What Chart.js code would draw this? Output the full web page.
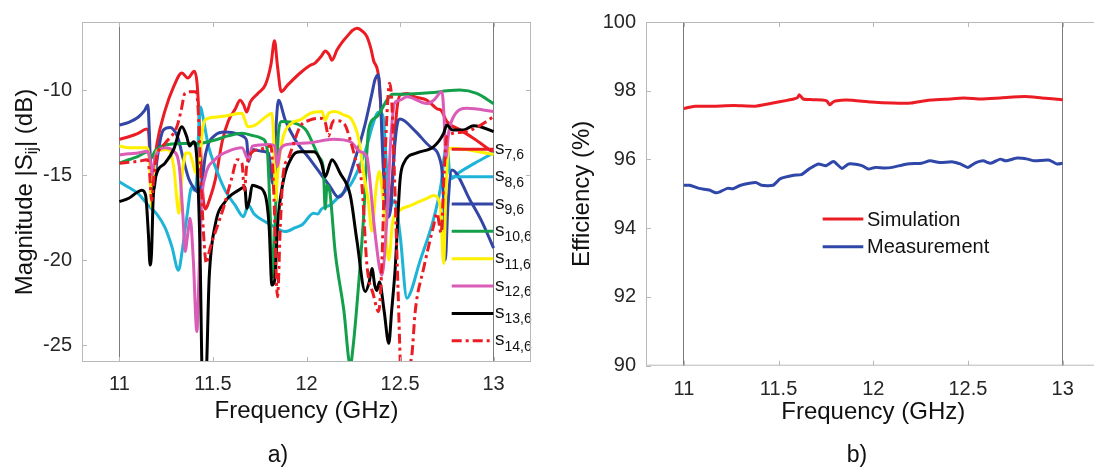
<!DOCTYPE html>
<html lang="en">
<head>
  <meta charset="UTF-8" />
  <title>S-parameters and efficiency</title>
  <script src="https://cdn.jsdelivr.net/npm/chart.js@4"></script>
  <style>
    body {
      margin: 0;
      width: 1094px;
      height: 468px;
      overflow: hidden;
      position: relative;
      background: #fff;
      font-family: "Liberation Sans", Arial, sans-serif;
    }

    canvas {
      position: absolute;
      top: 0;
    }

    #chartA { left: 0; }
    #chartB { left: 560px; }

    .caption {
      position: absolute;
      top: 443px;
      width: 60px;
      text-align: center;
      font-size: 23px;
      line-height: 1;
      color: #111;
    }
  </style>
</head>
<body>
  <canvas id="chartA" width="560" height="468"></canvas>
  <canvas id="chartB" width="560" height="468"></canvas>
  <div class="caption" style="left:248px">a)</div>
  <div class="caption" style="left:827px">b)</div>

  <script>
    // ---- data ----
    const freqTicks = [11, 11.5, 12, 12.5, 13];
    const magTicks = [-25, -20, -15, -10];
    const effTicks = [90, 92, 94, 96, 98, 100];

    const sNames = ['7,6', '8,6', '9,6', '10,6', '11,6', '12,6', '13,6', '14,6'];

    // [GHz, dB]
    const s7_6 = [[11.0,-12.9],[11.05,-12.75],[11.1,-12.55],[11.145,-12.3],[11.155,-12.4],[11.165,-14.5],[11.172,-16.3],[11.18,-15.0],[11.2,-13.2],[11.244,-11.2],[11.29,-9.8],[11.334,-9.0],[11.366,-9.3],[11.4,-8.9],[11.415,-9.6],[11.43,-12.5],[11.445,-16],[11.46,-17],[11.48,-16.5],[11.512,-15.3],[11.55,-13.0],[11.583,-11.8],[11.62,-11.1],[11.645,-10.6],[11.665,-10.9],[11.68,-11.3],[11.7,-10.7],[11.74,-10.2],[11.78,-9.7],[11.81,-8.5],[11.829,-7.1],[11.845,-8.6],[11.865,-10.1],[11.9,-9.7],[11.966,-9.0],[12.02,-8.55],[12.047,-8.4],[12.08,-8.0],[12.1,-7.7],[12.12,-7.9],[12.136,-8.25],[12.163,-7.65],[12.19,-7.2],[12.216,-6.86],[12.245,-6.5],[12.27,-6.37],[12.3,-6.55],[12.323,-6.86],[12.345,-7.6],[12.358,-8.25],[12.385,-9.2],[12.4,-11.5],[12.42,-15.5],[12.44,-17],[12.46,-15],[12.48,-11.5],[12.5,-10.3],[12.537,-10.2],[12.58,-10.4],[12.644,-10.6],[12.697,-11.1],[12.72,-11.2],[12.75,-11.85],[12.822,-12.35],[12.9,-12.9],[13.0,-13.7]];
    const s8_6 = [[11.0,-15.4],[11.03,-15.6],[11.1,-16.1],[11.155,-16.8],[11.2,-17.3],[11.244,-18.1],[11.28,-19.2],[11.316,-20.6],[11.335,-19.5],[11.36,-17.5],[11.387,-15.7],[11.4,-15.9],[11.415,-15.0],[11.425,-12.0],[11.434,-11.0],[11.445,-11.5],[11.476,-13.3],[11.512,-14.5],[11.565,-15.9],[11.62,-16.8],[11.663,-17.45],[11.68,-17.0],[11.69,-16.8],[11.72,-17.3],[11.78,-17.75],[11.82,-18.0],[11.886,-18.33],[11.94,-18.1],[11.98,-17.9],[12.037,-17.25],[12.06,-17.3],[12.08,-17.0],[12.127,-16.76],[12.18,-16.2],[12.234,-15.6],[12.28,-14.6],[12.32,-13.4],[12.35,-12.2],[12.376,-11.4],[12.39,-11.3],[12.41,-11.6],[12.425,-14],[12.44,-17],[12.47,-16.5],[12.5,-18.5],[12.537,-22.25],[12.56,-21.8],[12.6,-20.3],[12.68,-17.55],[12.72,-15.5],[12.735,-14.0],[12.75,-13.2],[12.765,-14.8],[12.777,-15.2],[12.81,-14.9],[12.9,-14.3],[13.0,-13.7]];
    const s9_6 = [[11.0,-12.06],[11.05,-11.9],[11.1,-11.6],[11.135,-11.2],[11.152,-10.88],[11.16,-12.5],[11.17,-15.5],[11.185,-15.8],[11.2,-14.2],[11.235,-12.35],[11.27,-12.2],[11.3,-12.5],[11.316,-12.94],[11.34,-14.0],[11.37,-15.2],[11.4,-15.8],[11.42,-16.0],[11.44,-15.5],[11.46,-13.8],[11.512,-12.65],[11.565,-12.47],[11.636,-12.6],[11.67,-12.8],[11.681,-13.04],[11.69,-14.2],[11.71,-13.5],[11.76,-13.6],[11.797,-13.72],[11.82,-15.5],[11.835,-12.5],[11.85,-10.6],[11.886,-11.76],[11.94,-12.94],[12.02,-14.1],[12.08,-15.0],[12.127,-15.7],[12.17,-16.3],[12.2,-16.0],[12.25,-14.4],[12.31,-12.16],[12.35,-10.2],[12.366,-9.4],[12.384,-9.1],[12.395,-10.5],[12.41,-14.5],[12.43,-17.5],[12.45,-17.0],[12.47,-13.5],[12.49,-11.8],[12.5,-11.7],[12.58,-12.4],[12.661,-13.33],[12.72,-14.4],[12.735,-17],[12.742,-20.0],[12.755,-17],[12.777,-14.7],[12.875,-16.5],[12.94,-17.8],[13.0,-19.3]];
    const s10_6 = [[11.0,-14.3],[11.05,-14.1],[11.1,-13.9],[11.155,-13.63],[11.17,-14.0],[11.19,-13.6],[11.244,-13.24],[11.33,-13.14],[11.42,-13.14],[11.512,-12.94],[11.58,-12.7],[11.655,-12.55],[11.72,-12.7],[11.76,-12.84],[11.79,-13.5],[11.805,-17],[11.82,-21.0],[11.835,-17],[11.85,-12.5],[11.868,-11.86],[11.94,-11.96],[12.0,-12.4],[12.04,-13.3],[12.07,-14.0],[12.09,-14.6],[12.1,-17.0],[12.11,-15.6],[12.125,-16.0],[12.153,-19.5],[12.2,-23.0],[12.234,-26.2],[12.25,-25.0],[12.27,-22.6],[12.305,-17.5],[12.332,-12.35],[12.376,-11.57],[12.43,-10.59],[12.46,-10.25],[12.5,-10.25],[12.6,-10.2],[12.68,-10.15],[12.75,-10.05],[12.82,-10.0],[12.91,-10.2],[13.0,-10.8]];
    const s11_6 = [[11.0,-13.3],[11.05,-13.4],[11.15,-13.4],[11.165,-15],[11.172,-16.9],[11.185,-15],[11.2,-13.6],[11.26,-13.5],[11.29,-14.5],[11.318,-17.25],[11.335,-15],[11.355,-13.7],[11.375,-13.7],[11.39,-14.2],[11.41,-14.9],[11.43,-14],[11.445,-12.3],[11.458,-11.76],[11.512,-11.6],[11.58,-11.5],[11.655,-11.37],[11.672,-11.8],[11.685,-12.16],[11.72,-12.1],[11.78,-11.6],[11.815,-11.37],[11.825,-13],[11.835,-16.5],[11.845,-15],[11.87,-13],[11.92,-11.96],[11.966,-11.76],[12.02,-11.37],[12.082,-11.27],[12.1,-11.76],[12.12,-11.35],[12.15,-11.27],[12.2,-11.47],[12.243,-11.76],[12.28,-12.94],[12.305,-14.9],[12.33,-16.5],[12.35,-18.3],[12.37,-16.0],[12.39,-14.8],[12.41,-16.5],[12.44,-20.0],[12.46,-17.8],[12.5,-17.06],[12.555,-16.8],[12.644,-16.37],[12.68,-16.2],[12.715,-16.8],[12.733,-20.2],[12.745,-16],[12.76,-13.43],[12.85,-13.5],[13.0,-13.8]];
    const s12_6 = [[11.0,-13.82],[11.05,-13.75],[11.1,-13.7],[11.15,-13.6],[11.165,-14.2],[11.175,-15.0],[11.19,-14.0],[11.244,-13.4],[11.29,-13.6],[11.32,-14.5],[11.34,-17.5],[11.351,-19.5],[11.365,-18.5],[11.378,-17.55],[11.395,-20],[11.414,-24.2],[11.425,-21],[11.44,-16.5],[11.458,-15.1],[11.51,-14.1],[11.583,-13.6],[11.655,-13.4],[11.69,-14.1],[11.71,-13.3],[11.8,-13.2],[11.83,-13.3],[11.845,-14.5],[11.86,-13.5],[11.9,-13.2],[12.02,-13.1],[12.144,-12.9],[12.234,-13.04],[12.287,-13.63],[12.323,-13.92],[12.335,-14.9],[12.367,-18.5],[12.403,-20.9],[12.43,-17.5],[12.45,-13],[12.47,-10.8],[12.5,-10.59],[12.537,-10.4],[12.644,-10.8],[12.68,-10.6],[12.724,-10.1],[12.735,-11.5],[12.745,-14],[12.76,-12.5],[12.786,-11.57],[12.858,-11.08],[13.0,-11.27]];
    const s13_6 = [[11.0,-16.57],[11.05,-16.37],[11.097,-16.0],[11.12,-15.9],[11.14,-16.2],[11.155,-18.5],[11.164,-20.3],[11.172,-19.5],[11.18,-16.5],[11.19,-15.3],[11.244,-14.3],[11.29,-13.5],[11.334,-12.16],[11.36,-12.75],[11.375,-13.3],[11.396,-13.04],[11.414,-14.1],[11.43,-19],[11.445,-27.5],[11.46,-27.5],[11.48,-21],[11.512,-17.94],[11.565,-16.57],[11.636,-15.9],[11.67,-15.7],[11.681,-16.96],[11.695,-16.5],[11.71,-15.6],[11.74,-15.7],[11.78,-16.2],[11.8,-18],[11.815,-21.47],[11.83,-21.2],[11.845,-18],[11.87,-15.7],[11.925,-13.9],[11.966,-13.63],[12.04,-13.63],[12.08,-14.3],[12.1,-15.1],[12.136,-14.1],[12.18,-14.9],[12.234,-16.2],[12.27,-18.9],[12.314,-21.86],[12.335,-21.3],[12.35,-20.5],[12.365,-21.5],[12.376,-21.8],[12.39,-21.3],[12.415,-23],[12.44,-24.9],[12.455,-23],[12.474,-20.5],[12.5,-15.3],[12.52,-14.3],[12.59,-13.7],[12.68,-13.33],[12.733,-12.55],[12.75,-12.06],[12.78,-12.35],[12.84,-12.35],[12.893,-12.1],[12.93,-12.16],[13.0,-12.45]];
    const s14_6 = [[11.0,-14.31],[11.05,-14.25],[11.1,-14.2],[11.15,-14.1],[11.162,-15],[11.172,-16.5],[11.185,-15],[11.2,-13.9],[11.244,-13.14],[11.307,-12.16],[11.33,-11.2],[11.35,-10.2],[11.38,-10.1],[11.41,-10.1],[11.42,-11],[11.435,-15],[11.45,-18.5],[11.465,-20.2],[11.48,-19.5],[11.557,-16.9],[11.6,-15.2],[11.63,-14.1],[11.655,-14.3],[11.668,-15.9],[11.68,-14.5],[11.704,-13.7],[11.75,-13.5],[11.81,-13.3],[11.825,-16],[11.845,-22.16],[11.86,-18],[11.875,-15],[11.904,-14.0],[11.966,-12.16],[12.02,-11.76],[12.07,-11.66],[12.1,-11.9],[12.118,-12.7],[12.135,-12.0],[12.15,-11.8],[12.2,-11.96],[12.234,-12.94],[12.26,-14.0],[12.296,-15.6],[12.323,-20.3],[12.358,-22.06],[12.385,-23.04],[12.4,-21],[12.42,-14],[12.435,-10.5],[12.444,-9.6],[12.455,-10.5],[12.47,-15],[12.49,-22],[12.505,-27],[12.52,-28],[12.545,-26.5],[12.564,-25.5],[12.581,-23.04],[12.626,-20.5],[12.679,-18.0],[12.697,-17.25],[12.72,-18.4],[12.735,-15],[12.75,-12.75],[12.822,-12.5],[12.91,-12.2],[13.0,-11.57]];

    // [GHz, %]
    const simEff = [[11.0,97.48],[11.03,97.52],[11.06,97.55],[11.15,97.55],[11.265,97.57],[11.377,97.55],[11.45,97.62],[11.545,97.72],[11.58,97.76],[11.6,97.8],[11.61,97.88],[11.63,97.76],[11.68,97.74],[11.73,97.73],[11.755,97.7],[11.77,97.59],[11.785,97.66],[11.8,97.7],[11.86,97.73],[11.99,97.67],[12.1,97.64],[12.2,97.64],[12.29,97.72],[12.38,97.75],[12.48,97.79],[12.57,97.76],[12.67,97.79],[12.8,97.83],[12.89,97.79],[13.0,97.74]];
    const measEff = [[11.0,95.25],[11.03,95.25],[11.08,95.16],[11.134,95.11],[11.17,95.03],[11.19,95.06],[11.23,95.16],[11.26,95.15],[11.3,95.25],[11.38,95.33],[11.41,95.25],[11.47,95.25],[11.51,95.44],[11.58,95.54],[11.62,95.56],[11.66,95.72],[11.71,95.87],[11.75,95.82],[11.79,95.94],[11.835,95.74],[11.87,95.87],[11.94,95.82],[11.975,95.72],[12.01,95.77],[12.06,95.75],[12.1,95.77],[12.18,95.87],[12.255,95.89],[12.3,95.96],[12.35,95.91],[12.42,95.93],[12.46,95.87],[12.5,95.77],[12.535,95.89],[12.58,95.96],[12.62,95.89],[12.67,96.01],[12.7,95.96],[12.76,96.04],[12.815,96.01],[12.85,95.96],[12.93,95.98],[12.97,95.87],[13.0,95.89]];

    // ---- styling ----
    const FONT = '"Liberation Sans", Arial, sans-serif';
    const sSeries = [s7_6, s8_6, s9_6, s10_6, s11_6, s12_6, s13_6, s14_6];
    const sColors = ['#ec1c24', '#1db4d8', '#3346a6', '#14a04a', '#fff000', '#db5cb6', '#000000', '#ec1c24'];
    const sDashes = [[], [], [], [], [], [], [], [10, 4, 3, 4]];

    Chart.defaults.font.family = FONT;
    Chart.defaults.color = '#262626';

    const toXY = pts => pts.map(([x, y]) => ({ x, y }));

    // MATLAB-like box: light frame, inward tick marks
    const frameTicks = {
      id: 'frameTicks',
      afterDraw(chart) {
        const { ctx, chartArea: a, scales } = chart;
        ctx.save();
        ctx.strokeStyle = '#b8b8b8';
        ctx.lineWidth = 1;
        ctx.strokeRect(a.left + 0.5, a.top + 0.5, a.right - a.left - 1, a.bottom - a.top - 1);
        ctx.beginPath();
        scales.x.ticks.forEach(t => {
          const px = Math.round(scales.x.getPixelForValue(t.value)) + 0.5;
          ctx.moveTo(px, a.bottom); ctx.lineTo(px, a.bottom - 5);
          ctx.moveTo(px, a.top); ctx.lineTo(px, a.top + 5);
        });
        scales.y.ticks.forEach(t => {
          const py = Math.round(scales.y.getPixelForValue(t.value)) + 0.5;
          ctx.moveTo(a.left, py); ctx.lineTo(a.left + 5, py);
          ctx.moveTo(a.right, py); ctx.lineTo(a.right - 5, py);
        });
        ctx.stroke();
        ctx.restore();
      }
    };

    // legend drawn inside the axes, no box
    const insideLegend = {
      id: 'insideLegend',
      afterDatasetsDraw(chart, args, opts) {
        const { ctx } = chart;
        ctx.save();
        chart.data.datasets.forEach((ds, i) => {
          const y = opts.y0 + i * opts.dy;
          ctx.strokeStyle = ds.borderColor;
          ctx.lineWidth = 3;
          ctx.setLineDash(ds.borderDash || []);
          ctx.beginPath();
          ctx.moveTo(opts.x0, y);
          ctx.lineTo(opts.x1, y);
          ctx.stroke();
          ctx.setLineDash([]);
          ctx.fillStyle = '#111';
          ctx.textAlign = 'left';
          if (opts.sub) {
            ctx.textBaseline = 'alphabetic';
            ctx.font = `${opts.size}px ${FONT}`;
            ctx.fillText('s', opts.tx, y + 4.5);
            const w = ctx.measureText('s').width;
            ctx.font = `${opts.subSize}px ${FONT}`;
            ctx.fillText(opts.sub[i], opts.tx + w, y + 10);
          } else {
            ctx.textBaseline = 'middle';
            ctx.font = `${opts.size}px ${FONT}`;
            ctx.fillText(ds.label, opts.tx, y + 1);
          }
        });
        ctx.restore();
      }
    };

    // rotated y title with a subscript part
    const subTitleY = {
      id: 'subTitleY',
      afterDraw(chart, args, opts) {
        if (!opts.parts) return;
        const { ctx, chartArea: a } = chart;
        ctx.save();
        ctx.fillStyle = '#111';
        ctx.textBaseline = 'alphabetic';
        const widths = opts.parts.map(([txt, size]) => {
          ctx.font = `${size}px ${FONT}`;
          return ctx.measureText(txt).width;
        });
        const total = widths.reduce((s, w) => s + w, 0);
        ctx.translate(opts.x, (a.top + a.bottom) / 2);
        ctx.rotate(-Math.PI / 2);
        let cx = -total / 2;
        opts.parts.forEach(([txt, size, shift], i) => {
          ctx.font = `${size}px ${FONT}`;
          ctx.fillText(txt, cx, shift);
          cx += widths[i];
        });
        ctx.restore();
      }
    };

    const freqAxis = (tickPad, titlePad, height) => ({
      type: 'linear',
      min: 10.8,
      max: 13.2,
      afterBuildTicks: s => { s.ticks = freqTicks.map(v => ({ value: v })); },
      afterFit: s => { s.height = height; },
      grid: {
        drawTicks: false,
        lineWidth: 1,
        color: c => (c.tick && (c.tick.value === 11 || c.tick.value === 13)) ? '#7c7c7c' : 'rgba(0,0,0,0)'
      },
      border: { display: false },
      ticks: { padding: tickPad, font: { size: 20 }, color: '#262626', callback: v => String(v) },
      title: {
        display: true,
        text: 'Frequency (GHz)',
        font: { size: 24 },
        color: '#111',
        padding: { top: 0, bottom: titlePad }
      }
    });

    new Chart(document.getElementById('chartA'), {
      type: 'line',
      data: {
        datasets: sSeries.map((pts, i) => ({
          label: 's' + sNames[i],
          data: toXY(pts),
          borderColor: sColors[i],
          borderDash: sDashes[i],
          borderWidth: 3,
          borderJoinStyle: 'round',
          pointRadius: 0,
          cubicInterpolationMode: 'monotone',
          order: sSeries.length - i
        }))
      },
      options: {
        responsive: false,
        animation: false,
        layout: { padding: { left: 0, top: 21.5, right: 29, bottom: 0 } },
        plugins: {
          legend: { display: false },
          tooltip: { enabled: false },
          insideLegend: { x0: 451.7, x1: 493.3, y0: 149.3, dy: 27.35, tx: 495, size: 19, subSize: 14, sub: sNames },
          subTitleY: { x: 31.6, parts: [['Magnitude |S', 24, 0], ['ij', 16, 5], ['| (dB)', 24, 0]] }
        },
        scales: {
          x: freqAxis(10, 42.6, 106),
          y: {
            min: -26,
            max: -6,
            afterBuildTicks: s => { s.ticks = magTicks.map(v => ({ value: v })); },
            afterFit: s => { s.width = 82; },
            grid: { display: false, drawTicks: false },
            border: { display: false },
            ticks: { padding: 10, font: { size: 20 }, color: '#262626' }
          }
        }
      },
      plugins: [frameTicks, insideLegend, subTitleY]
    });

    new Chart(document.getElementById('chartB'), {
      type: 'line',
      data: {
        datasets: [
          { label: 'Simulation', data: toXY(simEff), borderColor: '#ec1c24', borderWidth: 3, borderJoinStyle: 'round', pointRadius: 0, tension: 0.2 },
          { label: 'Measurement', data: toXY(measEff), borderColor: '#2f47a8', borderWidth: 3, borderJoinStyle: 'round', pointRadius: 0, tension: 0.2 }
        ]
      },
      options: {
        responsive: false,
        animation: false,
        layout: { padding: { left: 0, top: 14.7, right: 19.5, bottom: 0 } },
        plugins: {
          legend: { display: false },
          tooltip: { enabled: false },
          insideLegend: { x0: 262.7, x1: 303.3, y0: 219, dy: 27.7, tx: 307, size: 20 }
        },
        scales: {
          x: freqAxis(11.5, 40.9, 102.3),
          y: {
            min: 90,
            max: 100,
            afterBuildTicks: s => { s.ticks = effTicks.map(v => ({ value: v })); },
            afterFit: s => { s.width = 86; },
            grid: { display: false, drawTicks: false },
            border: { display: false },
            ticks: { padding: 10, font: { size: 20 }, color: '#262626' },
            title: {
              display: true,
              text: 'Efficiency (%)',
              font: { size: 24 },
              color: '#111',
              padding: { top: 8.3, bottom: 0 }
            }
          }
        }
      },
      plugins: [frameTicks, insideLegend]
    });
  </script>
</body>
</html>
